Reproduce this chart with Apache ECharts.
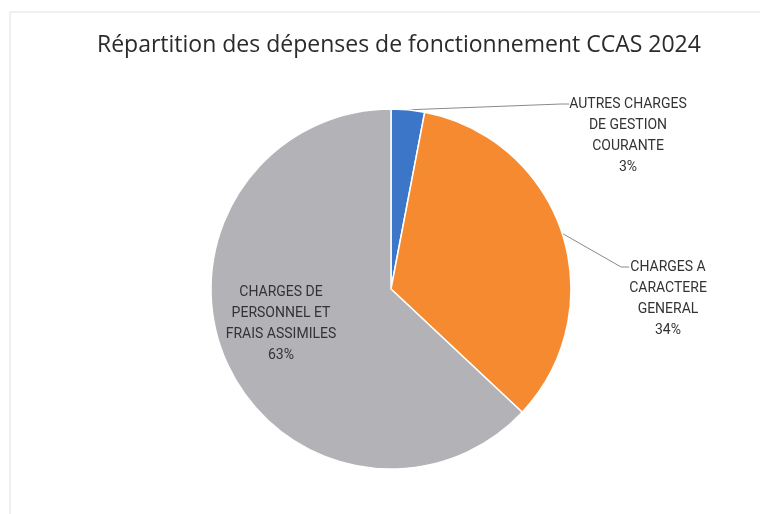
<!DOCTYPE html>
<html>
<head>
<meta charset="utf-8">
<script src="https://cdn.jsdelivr.net/npm/echarts@6/dist/echarts.min.js"></script>
<style>
  html, body { margin: 0; padding: 0; background: #fff; }
  #chart { width: 760px; height: 514px; }
</style>
</head>
<body>
<div id="chart"></div>
<script>
const titleText = 'Répartition des dépenses de fonctionnement CCAS 2024';
const categories = [
  'AUTRES CHARGES\nDE GESTION\nCOURANTE',
  'CHARGES A\nCARACTERE\nGENERAL',
  'CHARGES DE\nPERSONNEL ET\nFRAIS ASSIMILES'
];
const values = [3, 34, 63];
const colors = ['#3b76c8', '#f58a30', '#b3b2b7'];

// label box centres (outside labels: centre of the first text line)
const labelSpots = [[628, 104], [668, 267], [281, 324]];

const chart = echarts.init(document.getElementById('chart'));

chart.setOption({
  animation: false,
  color: colors,
  title: {
    text: titleText,
    left: 92,
    top: 29,
    textStyle: {
      fontFamily: 'Open Sans',
      fontSize: 23,
      fontWeight: 'normal',
      color: '#2b2b2b'
    }
  },
  graphic: [{
    type: 'rect',
    shape: { x: 10, y: 12, width: 760, height: 520 },
    style: { fill: 'none', stroke: '#e2e2e2', lineWidth: 1 },
    silent: true
  }],
  series: [{
    type: 'pie',
    center: [391, 289],
    radius: [0, 180],
    startAngle: 90,
    clockwise: true,
    itemStyle: { borderColor: '#fff', borderWidth: 1.5 },
    label: {
      show: true,
      // three empty lines on top so the leader line meets the first text line
      formatter: ' \n \n \n{b}\n{d}%',
      fontFamily: 'Roboto',
      fontSize: 14,
      lineHeight: 21,
      color: '#333',
      align: 'center'
    },
    labelLine: {
      show: true,
      length: 8,
      length2: 8,
      lineStyle: { color: '#8a8a8a', width: 1 }
    },
    labelLayout: function (params) {
      const p = labelSpots[params.dataIndex];
      return { x: p[0], y: p[1], align: 'center', verticalAlign: 'middle' };
    },
    data: categories.map(function (name, i) {
      const item = { name: name, value: values[i] };
      if (i === 2) {
        item.label = { position: 'inside', formatter: '{b}\n{d}%' };
        item.labelLine = { show: false };
      }
      return item;
    })
  }]
});
</script>
</body>
</html>
